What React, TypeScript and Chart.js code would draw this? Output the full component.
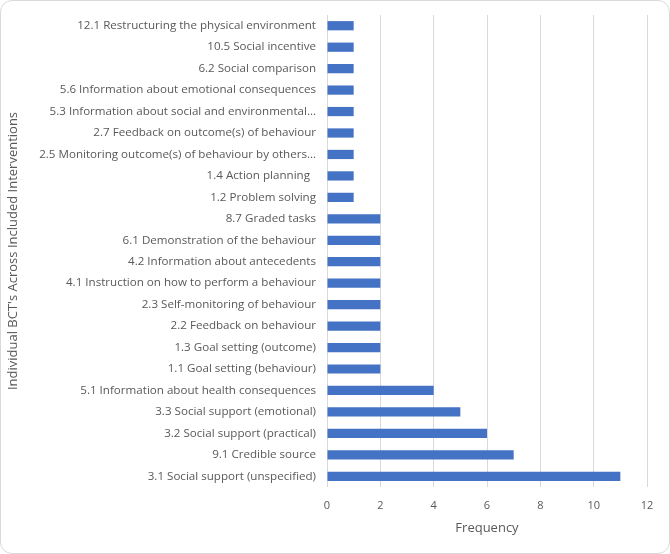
import { useEffect, useRef } from "react";
import { Chart, registerables } from "chart.js";

Chart.register(...registerables);

const categories: string[] = [
  "12.1 Restructuring the physical environment",
  "10.5 Social incentive",
  "6.2 Social comparison",
  "5.6 Information about emotional consequences",
  "5.3 Information about social and environmental…",
  "2.7 Feedback on outcome(s) of behaviour",
  "2.5 Monitoring outcome(s) of behaviour by others…",
  "1.4 Action planning  ",
  "1.2 Problem solving",
  "8.7 Graded tasks",
  "6.1 Demonstration of the behaviour",
  "4.2 Information about antecedents",
  "4.1 Instruction on how to perform a behaviour",
  "2.3 Self-monitoring of behaviour",
  "2.2 Feedback on behaviour",
  "1.3 Goal setting (outcome)",
  "1.1 Goal setting (behaviour)",
  "5.1 Information about health consequences",
  "3.3 Social support (emotional)",
  "3.2 Social support (practical)",
  "9.1 Credible source",
  "3.1 Social support (unspecified)",
];

const frequency: number[] = [1, 1, 1, 1, 1, 1, 1, 1, 1, 2, 2, 2, 2, 2, 2, 2, 2, 4, 5, 6, 7, 11];

const xTicks: number[] = [0, 2, 4, 6, 8, 10, 12];

const xTitle = "Frequency";
const yTitle = "Individual BCT's Across Included Interventions";

export default function App() {
  const ref = useRef<HTMLCanvasElement | null>(null);

  useEffect(() => {
    if (!ref.current) return;
    const FONT = "'Open Sans', 'Noto Sans', sans-serif";
    const chart = new Chart(ref.current, {
      type: "bar",
      data: {
        labels: categories,
        datasets: [
          {
            data: frequency,
            backgroundColor: "#4472C4",
            borderWidth: 0,
            barPercentage: 0.43,
            categoryPercentage: 1,
          },
        ],
      },
      options: {
        indexAxis: "y",
        animation: false,
        responsive: false,
        maintainAspectRatio: false,
        layout: { padding: { left: 4, right: 22, top: 14, bottom: 17 } },
        plugins: {
          legend: { display: false },
          tooltip: { enabled: false },
        },
        scales: {
          x: {
            type: "linear",
            min: 0,
            max: 12,
            afterBuildTicks: (s: any) => {
              s.ticks = xTicks.map((v) => ({ value: v }));
            },
            grid: { color: "#d9d9d9", drawTicks: false, lineWidth: 1 },
            border: { display: false },
            ticks: { color: "#595959", font: { family: FONT, size: 11 }, padding: 12 },
            title: {
              display: true,
              text: xTitle,
              color: "#595959",
              font: { family: FONT, size: 13 },
              padding: { top: 4, bottom: 0 },
            },
            afterFit: (s: any) => {
              s.height = 49;
            },
          },
          y: {
            type: "category",
            grid: { display: false, drawTicks: false },
            border: { display: false },
            ticks: {
              color: "#595959",
              font: { family: FONT, size: 11.6 },
              padding: 11,
              autoSkip: false,
            },
            title: {
              display: true,
              text: yTitle,
              color: "#595959",
              font: { family: FONT, size: 13 },
              padding: { top: 0, bottom: 0 },
            },
            afterFit: (s: any) => {
              s.width = 326 - 4;
              s.paddingTop = 0;
              s.paddingBottom = 0;
            },
          },
        },
      },
    });
    return () => chart.destroy();
  }, []);

  return (
    <div
      style={{
        position: "fixed",
        left: 0,
        top: 0,
        width: 670,
        height: 554,
        boxSizing: "border-box",
        border: "1px solid #d9d9d9",
        borderRadius: 12,
        background: "#fff",
        overflow: "hidden",
      }}
    >
      <canvas ref={ref} width={668} height={552} style={{ display: "block" }} />
    </div>
  );
}
